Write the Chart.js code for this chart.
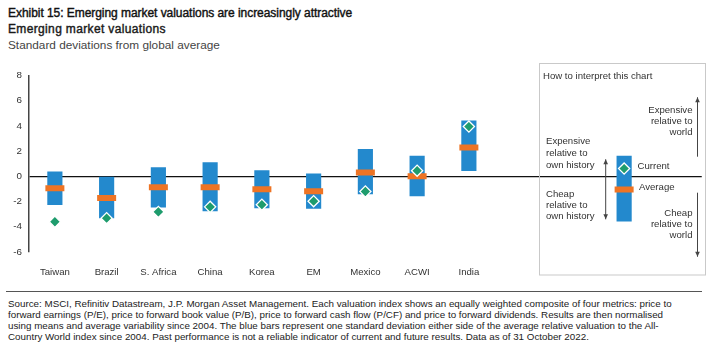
<!DOCTYPE html>
<html><head><meta charset="utf-8">
<script src="https://cdn.jsdelivr.net/npm/chart.js@4.4.0/dist/chart.umd.min.js"></script>
<style>
html,body{margin:0;padding:0;background:#fff;width:718px;height:357px;overflow:hidden;font-family:"Liberation Sans",Arial,sans-serif;}
.t{position:absolute;left:8px;white-space:nowrap;}
#title{top:5px;font-size:12px;line-height:16px;color:#111;-webkit-text-stroke:0.4px #111;letter-spacing:-0.05px;}
#sub{top:21px;font-size:12px;line-height:16px;color:#1a1a1a;-webkit-text-stroke:0.4px #1a1a1a;letter-spacing:0.35px;}
#unit{top:36.5px;font-size:11.8px;line-height:16px;color:#444;}
#rule{position:absolute;left:6px;top:290.5px;width:696px;height:0;border-top:1px solid #555;}
#foot{top:297.8px;font-size:9.8px;line-height:11px;color:#222;}
#wrap{position:absolute;left:0;top:60px;width:718px;height:222px;}
</style></head>
<body>
<div class="t" id="title">Exhibit 15: Emerging market valuations are increasingly attractive</div>
<div class="t" id="sub">Emerging market valuations</div>
<div class="t" id="unit">Standard deviations from global average</div>
<div id="wrap"><canvas id="c" width="718" height="222"></canvas></div>
<div id="rule"></div>
<div class="t" id="foot">Source: MSCI, Refinitiv Datastream, J.P. Morgan Asset Management. Each valuation index shows an equally weighted composite of four metrics: price to<br>forward earnings (P/E), price to forward book value (P/B), price to forward cash flow (P/CF) and price to forward dividends. Results are then normalised<br>using means and average variability since 2004. The blue bars represent one standard deviation either side of the average relative valuation to the All-<br>Country World index since 2004. Past performance is not a reliable indicator of current and future results. Data as of 31 October 2022.</div>
<script>
const categories = ['Taiwan','Brazil','S. Africa','China','Korea','EM','Mexico','ACWI','India'];
const rangeLow  = [-2.25,-3.3,-2.45,-2.75,-2.5,-2.55,-1.4,-1.55,0.45];
const rangeHigh = [0.35,0.0,0.7,1.1,0.45,0.2,2.15,1.6,4.4];
const average   = [-0.95,-1.72,-0.87,-0.87,-1.02,-1.18,0.3,0.0,2.28];
const current   = [-3.6,-3.32,-2.82,-2.42,-2.25,-1.97,-1.2,0.45,3.95];
// worked example drawn inside the "How to interpret this chart" box
const exampleLow = -3.55, exampleHigh = 1.6, exampleAverage = -1.05, exampleCurrent = 0.62;
const yTicks = [-6,-4,-2,0,2,4,6,8];

const labels = categories.concat(['','','','']);
const exIdx = categories.length + 2;
function pad(arr, ex){ const a = arr.slice(); a.push(null, null, ex, null); return a; }
const ranges = categories.map((c,i)=>[rangeLow[i], rangeHigh[i]]);

const BLUE='#2389CD', ORANGE='#EE7424', GREEN='#1E9C6D';

function arrow(ctx, x, y1, y2, both){
  ctx.beginPath(); ctx.moveTo(x,y1); ctx.lineTo(x,y2); ctx.stroke();
  const head=(y,dir)=>{ ctx.beginPath(); ctx.moveTo(x,y); ctx.lineTo(x-2.3,y-dir*5); ctx.lineTo(x+2.3,y-dir*5); ctx.closePath(); ctx.fill(); };
  head(y2, y2>y1?1:-1);
  if(both) head(y1, y1>y2?1:-1);
}

const guide = {
  id:'guide',
  afterDraw(chart){
    const ctx = chart.ctx;
    ctx.save();
    ctx.strokeStyle='#c9c9c9'; ctx.lineWidth=1;
    ctx.strokeRect(539.5,3.5,166,211.5);
    ctx.fillStyle='#333'; ctx.font='9.6px "Liberation Sans", Arial, sans-serif';
    ctx.textBaseline='middle'; ctx.textAlign='left';
    ctx.fillText('How to interpret this chart',543,16.7);
    [['Expensive',81.7],['relative to',93.3],['own history',105],['Cheap',134],['relative to',145.3],['own history',156.5]].forEach(([s,y])=>ctx.fillText(s,546,y));
    ctx.fillText('Current',637.5,106.7);
    ctx.fillText('Average',639,127.7);
    ctx.textAlign='right';
    [['Expensive',50],['relative to',61.8],['world',72.7],['Cheap',153.3],['relative to',164.3],['world',175]].forEach(([s,y])=>ctx.fillText(s,692.5,y));
    ctx.strokeStyle='#444'; ctx.fillStyle='#444'; ctx.lineWidth=1;
    arrow(ctx,697.5,96.7,37.3,false);
    arrow(ctx,697.5,132.7,196.7,false);
    arrow(ctx,605.7,99.3,159.3,true);
    ctx.restore();
  }
};

new Chart(document.getElementById('c'), {
  data:{
    labels: labels,
    datasets:[
      {type:'line', data: pad(current, exampleCurrent), showLine:false, order:0,
       pointStyle:'rectRot', pointRadius:5.6, pointHoverRadius:5.6,
       pointBackgroundColor:GREEN, pointBorderColor:'#fff', pointBorderWidth:1.3},
      {type:'line', data: pad(average, exampleAverage), showLine:false, order:1,
       pointStyle:'line', pointRadius:9.5, pointHoverRadius:9.5,
       pointBorderColor:ORANGE, pointBorderWidth:6},
      {type:'bar', data: pad(ranges, [exampleLow, exampleHigh]), order:2,
       backgroundColor:BLUE, barThickness:14.5, borderWidth:0}
    ]
  },
  options:{
    responsive:false, animation:false, devicePixelRatio:1,
    layout:{padding:{top:13.5,right:16.25,left:0,bottom:0}},
    plugins:{legend:{display:false}, tooltip:{enabled:false}},
    scales:{
      x:{type:'category', offset:true,
         grid:{display:false, drawTicks:false}, border:{display:false},
         ticks:{padding:15, autoSkip:false, maxRotation:0, color:'#333',
                font:{size:9.6, family:'"Liberation Sans", Arial, sans-serif'}},
         afterFit:s=>{s.height=30;}},
      y:{min:-6, max:8,
         afterBuildTicks:s=>{s.ticks = yTicks.map(v=>({value:v}));},
         ticks:{padding:7, color:'#333', font:{size:9.8, family:'"Liberation Sans", Arial, sans-serif'}},
         grid:{drawTicks:false, lineWidth:1.2, color:c=>(c.tick && c.tick.value===0)?'#111':'rgba(0,0,0,0)'},
         border:{display:true, color:'#444', width:1.5},
         afterFit:s=>{s.width=29;}}
    }
  },
  plugins:[guide]
});
</script>
</body></html>
